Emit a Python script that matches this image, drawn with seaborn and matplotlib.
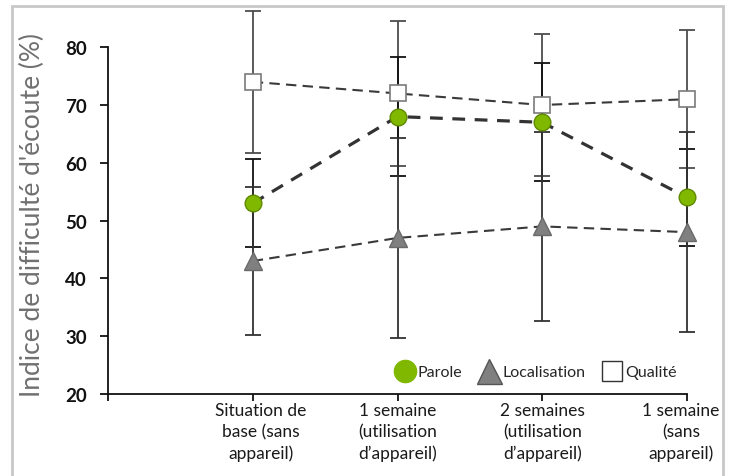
import matplotlib
matplotlib.use("Agg")
import matplotlib.pyplot as plt
from matplotlib.lines import Line2D
from matplotlib.patches import Rectangle
import seaborn as sns

# Measurement occasions (first slot on the axis left empty)
categories = [
    "Situation de\nbase (sans\nappareil)",
    "1 semaine\n(utilisation\nd’appareil)",
    "2 semaines\n(utilisation\nd’appareil)",
    "1 semaine\n(sans\nappareil)",
]
positions = [1, 2, 3, 4]

parole = [53, 68, 67, 54]
parole_err = [7.6, 10.3, 10.2, 8.4]

localisation = [43, 47, 49, 48]
localisation_err = [12.8, 17.3, 16.4, 17.3]

qualite = [74, 72, 70, 71]
qualite_err = [12.3, 12.5, 12.3, 11.9]

y_ticks = [20, 30, 40, 50, 60, 70, 80]

sns.set_theme(style="white")
plt.rcParams["font.family"] = ["Lato", "DejaVu Sans"]

W, H = 732, 477
fig = plt.figure(figsize=(W / 100, H / 100), dpi=100)

# axes box in pixels: x from 108 to 687, y from 20 -> 395px, 87 -> ~8px
ax_left, ax_right = 108, 687
ax_bottom = 395
px_per_unit = 5.78
ymin, ymax = 20, 87
ax_w = ax_right - ax_left
ax_h = (ymax - ymin) * px_per_unit
ax = fig.add_axes([ax_left / W, 1 - ax_bottom / H, ax_w / W, ax_h / H])

# error bars
ax.errorbar(positions, qualite, yerr=qualite_err, fmt="none", ecolor="#4d4d4d",
            elinewidth=1.3, capsize=5.5, capthick=1.3, zorder=2, clip_on=False)
ax.errorbar(positions, parole, yerr=parole_err, fmt="none", ecolor="#111111",
            elinewidth=1.3, capsize=5.5, capthick=1.3, zorder=2, clip_on=False)
ax.errorbar(positions, localisation, yerr=localisation_err, fmt="none", ecolor="#333333",
            elinewidth=1.3, capsize=5.5, capthick=1.3, zorder=2, clip_on=False)

# series lines with markers
sns.lineplot(x=positions, y=qualite, ax=ax, color="#3a3a3a", lw=1.5,
             linestyle=(0, (5, 3)), marker="s", ms=12, mfc="white",
             mec="#7a7a7a", mew=1.2, zorder=4, clip_on=False)
sns.lineplot(x=positions, y=localisation, ax=ax, color="#3a3a3a", lw=1.5,
             linestyle=(0, (5, 3)), marker="^", ms=13, mfc="#808080",
             mec="#6a6a6a", mew=1.0, zorder=4, clip_on=False)
sns.lineplot(x=positions, y=parole, ax=ax, color="#333333", lw=2.3,
             linestyle=(0, (4, 3)), marker="o", ms=12, mfc="#80b800",
             mec="#5f8a00", mew=1.0, zorder=5, clip_on=False)

ax.set_xlim(0, 4)
ax.set_ylim(ymin, ymax)
ax.set_xticks([0] + positions)
ax.set_xticklabels([])
ax.set_yticks(y_ticks)
ax.set_yticklabels([str(v) for v in y_ticks], fontsize=13.5, fontweight="bold", color="#111111")

# category labels under the ticks; the outer ones sit slightly off-centre
label_shift_px = [8, 0, 0, -6]
for pos, text, dx in zip(positions, categories, label_shift_px):
    ax.annotate(text, xy=(pos, 0), xycoords=ax.get_xaxis_transform(),
                xytext=(dx * 0.72, -8 * 0.72), textcoords="offset points",
                ha="center", va="top", fontsize=12.5, color="#1a1a1a",
                linespacing=1.4, annotation_clip=False)

ax.tick_params(axis="y", direction="out", length=6, width=1.3, color="#111111", pad=9, left=True)
ax.tick_params(axis="x", direction="out", length=5, width=1.3, color="#111111", pad=3, bottom=True)

for s in ["top", "right"]:
    ax.spines[s].set_visible(False)
for s in ["left", "bottom"]:
    ax.spines[s].set_color("#111111")
    ax.spines[s].set_linewidth(1.3)
ax.spines["left"].set_bounds(20, 80)

ax.set_ylabel("Indice de difficulté d'écoute (%)", fontsize=19, color="#707070")
ax.yaxis.set_label_coords((45 - ax_left) / ax_w, (ax_bottom - 215) / ax_h)
ax.set_xlabel("")
ax.grid(False)

handles = [
    Line2D([], [], ls="none", marker="o", ms=16, mfc="#80b800", mec="#80b800"),
    Line2D([], [], ls="none", marker="^", ms=18, mfc="#808080", mec="#555555", mew=1.0),
    Line2D([], [], ls="none", marker="s", ms=15, mfc="white", mec="#333333", mew=1.0),
]
leg = ax.legend(handles, ["Parole", "Localisation", "Qualité"], ncol=3, frameon=False,
                loc="center left", bbox_to_anchor=((392 - ax_left) / ax_w, 22 / ax_h),
                fontsize=11.5, handletextpad=0.0, columnspacing=0.9, handlelength=1.6,
                borderaxespad=0, borderpad=0)

# light grey frame around the figure
fig.add_artist(Rectangle((12 / W, -0.05), (723 - 12) / W, (H - 7) / H + 0.05,
                         transform=fig.transFigure, fill=False, ec="#c8c8c8", lw=2))

fig.savefig("out.png", dpi=100)
